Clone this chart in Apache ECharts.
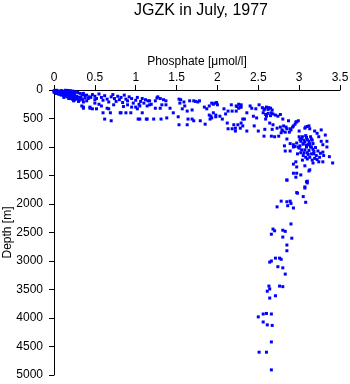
<!DOCTYPE html>
<html>
<head>
<meta charset="utf-8">
<script src="https://cdn.jsdelivr.net/npm/echarts@6/dist/echarts.min.js"></script>
<style>
html,body{margin:0;padding:0;background:#fff;}
#chart{width:350px;height:384px;}
</style>
</head>
<body>
<div id="chart"></div>
<script>
// [phosphate (µmol/l), depth (m)]
var surfaceLayer = [
[0.01,10],[0.02,20],[0.03,5],[0.04,30],[0.05,15],[0.06,40],[0.02,45],[0.07,25],[0.08,50],[0.09,10],[0.1,35],[0.11,60],[0.12,20],[0.13,45],[0.14,70],[0.15,30],[0.16,55],[0.17,80],[0.18,15],[0.19,40],[0.2,65],[0.21,90],[0.22,25],[0.23,50],[0.24,100],[0.25,75],[0.05,55],[0.08,70],[0.1,80],[0.12,90],[0.15,100],[0.18,110],[0.2,120],[0.22,130],[0.24,140],[0.26,120],[0.28,110],[0.27,150],[0.3,130],[0.03,60],[0.06,75],[0.09,90],[0.13,105],[0.16,120],[0.19,135],[0.21,150],[0.23,165],[0.25,175],[0.28,160],[0.31,180],[0.33,150],[0.35,170],[0.14,5],[0.17,8],[0.2,12],[0.23,20],[0.26,30],[0.29,45],[0.32,60],[0.35,80],[0.38,100],[0.11,40],[0.07,65],[0.04,50],[0.01,30],[0.0,15],[0.0,40],[0.12,130],[0.18,150],[0.24,190],[0.3,200],[0.36,210],[0.4,190],[0.42,150],[0.45,130],[0.5,170],[0.38,140],[0.33,120]
];
var upperBand = [
[0.36,60],[0.4,90],[0.43,120],[0.47,80],[0.5,110],[0.52,150],[0.55,70],[0.58,130],[0.6,180],[0.62,100],[0.65,160],[0.67,210],[0.7,120],[0.72,80],[0.74,150],[0.76,200],[0.78,110],[0.8,170],[0.82,130],[0.84,220],[0.86,90],[0.88,160],[0.9,190],[0.92,120],[0.95,150],[0.97,230],[1.0,180],[1.02,130],[1.04,250],[1.06,200],[1.08,150],[1.1,230],[1.12,170],[1.14,280],[1.17,190],[1.19,250],
[0.34,280],[0.36,300],[0.44,300],[0.47,330],[0.52,330],[0.44,320],[0.36,320],[0.6,400],[0.65,320],[0.67,330],[0.69,400],[0.62,510],[0.7,540],[0.81,400],[0.82,400],[0.88,400],[0.94,400],[1.02,330],[1.08,400],[1.03,510],[1.05,510],[1.13,510],[1.05,280],[0.55,250],[0.5,230],[0.58,280],[0.73,260],[0.85,290],[0.95,300],[0.9,260],[1.0,300]
];
var midBand = [
[1.15,190],[1.17,260],[1.24,190],[1.26,140],[1.27,120],[1.24,320],[1.30,320],[1.32,260],[1.37,190],[1.37,260],[1.42,320],[1.46,400],[1.14,510],[1.22,510],[1.31,510],[1.38,490],[1.52,470],[1.53,160],[1.54,230],[1.59,210],[1.60,280],[1.57,330],[1.63,370],[1.66,190],[1.71,190],[1.76,210],[1.69,350],[1.64,510],[1.69,510],[1.71,540],[1.63,610],[1.53,610],[1.79,540],[1.84,300],[1.87,330],[1.90,280],[1.93,230],[1.97,230],[2.00,260],[1.95,400],[1.98,440],[1.93,490],[1.98,470],[2.03,460],[2.06,510],[1.85,600],[1.91,510],[2.10,420],[2.08,330],[2.13,370],[2.17,260],[2.23,280],[2.26,250],[2.18,370],[2.23,370],[2.26,320],[2.33,510],[2.13,680],[2.18,680],[2.22,670],[2.20,610],[2.25,610],[2.12,580],[2.28,670],[2.22,720],
[1.30,150],[1.34,170],[1.55,170],[1.73,200],[1.78,190],[1.95,250],[1.99,220],[1.90,440],[1.92,460],[2.24,290],[2.28,300],[2.29,260]
];
var elbowUpper = [
[2.29,300],[2.31,510],[2.36,720],[2.31,630],[2.45,630],[2.50,720],[2.36,400],[2.40,280],[2.42,320],[2.47,330],[2.51,260],[2.44,460],[2.48,490],[2.29,580],
[2.55,310],[2.58,330],[2.60,300],[2.62,340],[2.65,320],[2.67,350],[2.57,350],[2.63,310],
[2.56,400],[2.59,430],[2.62,410],[2.65,450],[2.68,420],[2.71,440],[2.74,460],[2.77,430],[2.60,460],[2.66,400],
[2.59,510],[2.64,580],[2.68,610],[2.58,690],[2.67,690],[2.57,810],[2.66,810],[2.70,820],[2.75,810],[2.73,670],
[2.77,650],[2.79,700],[2.81,630],[2.83,740],[2.85,680],[2.80,720],[2.78,750],[2.84,650],
[2.80,510],[2.87,540],[2.96,560],[2.99,540],[2.89,680],[2.93,630],[2.85,860],
[2.89,940],[2.93,960],[2.97,930],[3.01,980],[3.05,950],[3.09,970],[2.95,990],
[3.00,720],[3.07,670],[3.12,630],[3.13,680],[3.27,700],[3.24,820],[3.32,790],[3.34,900],[3.29,960],
[3.00,820],[3.03,850],[3.06,880],[3.09,830],[3.12,900],[3.15,860],[3.17,940],[3.02,900],[3.05,940],[3.08,800],[3.11,960],[3.14,820],[3.16,880],[3.01,870],[3.04,820],[3.07,910],[3.10,870],[3.13,940],
[2.97,560],[2.95,600],[2.92,650],[2.90,700],[2.88,740],[3.08,650],[3.10,640],[3.19,720],[3.22,760]
];
var elbowLower = [
[2.82,980],[2.83,1070],[2.89,1070],[2.93,1000],[2.99,1000],[3.27,900],[3.34,1000],[3.29,1090],[3.37,1170],[3.41,1280],[3.29,1260],[3.24,1260],[3.17,1280],[3.10,1210],[3.04,1230],[2.96,1260],[2.93,1300],[2.97,1350],[3.07,1330],[3.13,1400],[3.12,1420],[2.93,1460],[2.97,1460],[3.02,1490],[2.96,1530],[2.85,1580],[3.10,1600],[3.10,1630],[3.07,1700],[2.97,1800],[3.05,1870],
[3.00,1020],[3.03,1050],[3.06,1100],[3.09,1000],[3.12,1060],[3.15,1120],[3.18,1080],[3.21,1150],[3.05,1150],[3.08,1180],[3.11,1130],[3.14,1000],[3.17,1040],[3.20,1010],[3.23,1070],[3.26,1110],[3.02,1100],[3.13,1180],[3.19,1200],[3.16,1230],[3.22,1220],[3.10,1100],[3.07,1050],[2.98,1120],[3.25,1180],[3.30,1150],[3.12,960],[3.18,1120],[3.15,1000]
];
var deepWater = [
[2.85,1580],[3.09,1610],[3.07,1720],[2.98,1810],[2.78,1950],[2.85,1960],[2.89,1950],[2.90,1990],[3.08,1970],[2.73,2050],[2.86,2030],[2.93,2070],[2.90,2350],[2.68,2440],[2.70,2470],[2.66,2530],[2.80,2460],[2.83,2480],[2.80,2580],[2.91,2600],[2.85,2720],[2.85,2820],[2.71,2950],[2.76,2950],[2.78,2970],[2.66,3000],[2.64,3020],[2.74,3100],[2.80,3120],[2.83,3230],[2.63,3440],[2.76,3440],[2.80,3450],[2.64,3490],[2.61,3530],[2.71,3610],[2.64,3650],[2.56,3930],[2.60,3920],[2.66,3930],[2.50,3980],[2.56,4070],[2.61,4120],[2.67,4130],[2.66,4420],[2.51,4600],[2.60,4600],[2.66,4910]
];
var xTicks = [0, 0.5, 1, 1.5, 2, 2.5, 3, 3.5];
var yTicks = [0, 500, 1000, 1500, 2000, 2500, 3000, 3500, 4000, 4500, 5000];

var allPoints = [].concat(surfaceLayer, upperBand, midBand, elbowUpper, elbowLower, deepWater);
var FONT = '"Liberation Sans", Arial, Helvetica, sans-serif';
var chart = echarts.init(document.getElementById('chart'), null, {renderer: 'canvas'});
chart.setOption({
  animation: false,
  backgroundColor: '#ffffff',
  title: {
    text: 'JGZK in July, 1977',
    left: 129, top: -2,
    textStyle: {fontFamily: FONT, fontSize: 16, fontWeight: 'normal', color: '#000'}
  },
  grid: {left: 54, top: 90, width: 286, height: 285, containLabel: false, outerBoundsMode: 'none'},
  xAxis: {
    type: 'value', position: 'top',
    min: xTicks[0], max: xTicks[xTicks.length - 1], interval: 0.5,
    name: 'Phosphate [μmol/l]', nameLocation: 'middle', nameGap: 22, nameMoveOverlap: false,
    nameTextStyle: {fontFamily: FONT, fontSize: 12, color: '#000'},
    axisLine: {show: true, lineStyle: {color: '#000', width: 1}},
    axisTick: {show: true, inside: false, length: 5, lineStyle: {color: '#000'}},
    axisLabel: {fontFamily: FONT, fontSize: 12, color: '#000', margin: 6},
    splitLine: {show: false}
  },
  yAxis: {
    type: 'value', inverse: true,
    min: yTicks[0], max: yTicks[yTicks.length - 1], interval: 500,
    name: 'Depth [m]', nameLocation: 'middle', nameGap: 40, nameMoveOverlap: false,
    nameTextStyle: {fontFamily: FONT, fontSize: 12, color: '#000'},
    axisLine: {show: true, lineStyle: {color: '#000', width: 1}},
    axisTick: {show: true, inside: false, length: 5, lineStyle: {color: '#000'}},
    axisLabel: {fontFamily: FONT, fontSize: 12, color: '#000', margin: 11,
      formatter: function (v) { return String(v); }},
    splitLine: {show: false}
  },
  series: [{
    type: 'scatter',
    data: allPoints,
    symbol: 'rect',
    symbolSize: 3,
    itemStyle: {color: '#0000ff', opacity: 1},
    silent: true
  }]
});
</script>
</body>
</html>
